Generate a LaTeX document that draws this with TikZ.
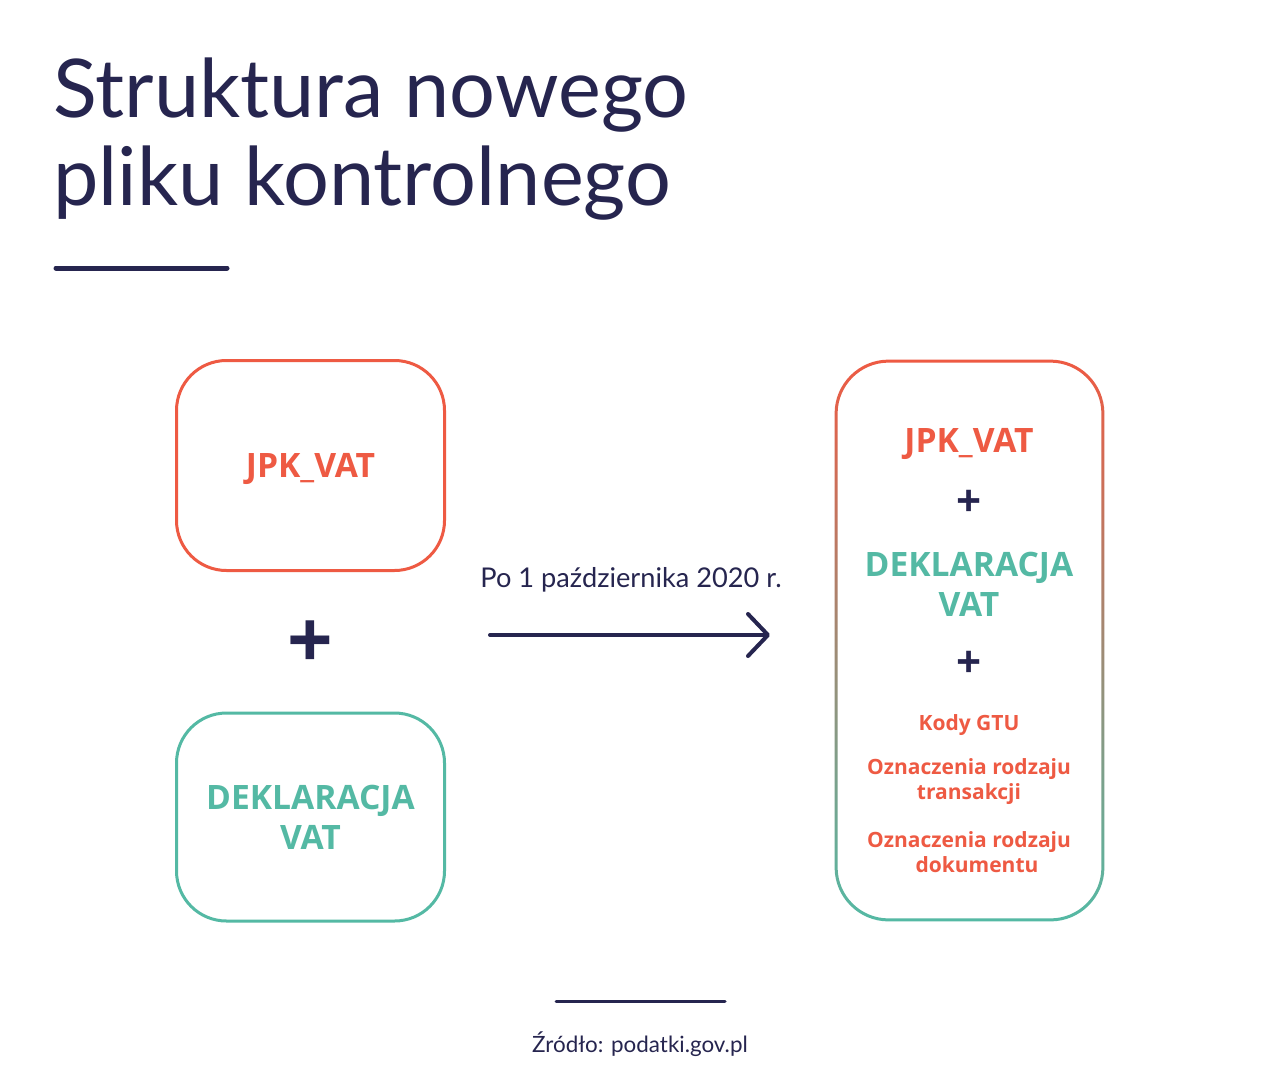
\documentclass[tikz,border=0pt]{standalone}
\usepackage{fontspec}
\setmainfont{Open Sans}
\newfontfamily\titlefont{Lato}
\usetikzlibrary{arrows.meta,positioning}
\definecolor{granat}{HTML}{26254F}
\definecolor{koral}{HTML}{EE5A43}
\definecolor{morski}{HTML}{54B9A4}
\tikzstyle{pole} = [draw, line width=1.5pt, rounded corners=25pt, minimum width=134pt, minimum height=105pt, align=center, font=\bfseries\fontsize{16.8}{20}\selectfont]
\tikzstyle{duzy} = [font=\bfseries\fontsize{16.8}{20}\selectfont, align=center]
\tikzstyle{plus} = [granat, font=\bfseries\fontsize{22}{22}\selectfont, inner sep=0pt]
\tikzstyle{maly} = [koral, align=center, font=\bfseries\fontsize{10.5}{12.5}\selectfont]
\tikzstyle{kreska} = [granat, line width=2.5pt, line cap=round]

\begin{document}
\begin{tikzpicture}[x=0.5pt,y=-0.5pt]
    \useasboundingbox[fill=white] (0,0) rectangle (1280,1088);
    % title
    \node[granat, anchor=base west, inner sep=0pt, font=\titlefont\fontsize{40.5}{44}\selectfont] (tytul) at (53,117) {Struktura nowego};
    \node[granat, anchor=base west, inner sep=0pt, font=\titlefont\fontsize{40.5}{44}\selectfont] (tytul2) at (53,205) {pliku kontrolnego};
    \draw[kreska] (56,268) -- (227,268);
    % old structure
    \node[pole, koral, text height=16pt, text depth=4pt] (jpk) at (310.5,465.5) {JPK\_VAT};
    \node[plus, font=\bfseries\fontsize{40}{40}\selectfont] (plus) at (310.5,645) {+};
    \node[pole, morski, minimum height=104pt] (deklaracja) at (310.5,817) {DEKLARACJA\\VAT};
    % arrow
    \coordinate (start) at (490,635);
    \coordinate (koniec) at (770,635);
    \draw[granat, line width=2pt, line cap=round, -{Straight Barb[length=10pt,width=21pt,line width=2pt,round]}] (start) -- (koniec);
    \node[granat, font=\titlefont\fontsize{13.6}{15}\selectfont, anchor=base] (data) at (631,587) {Po 1 października 2020 r.};
    % new structure
    \node[minimum width=134.5pt, minimum height=280.5pt] (nowy) at (969.5,640.5) {};
    \shade[top color=koral, bottom color=morski, middle color=koral!50!morski, even odd rule]
      [rounded corners=27pt] (nowy.north west) rectangle (nowy.south east)
      [rounded corners=25.5pt] ([shift={(3,3)}]nowy.north west) rectangle ([shift={(-3,-3)}]nowy.south east);
    \node[koral, duzy] (jpk2) at (969,444) {JPK\_VAT};
    \node[plus] (plus1) at (969,503) {+};
    \node[morski, duzy] (deklaracja2) at (969,584) {DEKLARACJA\\VAT};
    \node[plus] (plus2) at (969,664) {+};
    \node[maly] (gtu) at (969,725) {Kody GTU};
    \node[maly] (transakcje) at (969,782) {Oznaczenia rodzaju\\transakcji};
    \node[maly] (dokumenty) at (969,852) {Oznaczenia rodzaju\\\hspace*{8pt}dokumentu};
    % source
    \draw[kreska, line width=1.5pt] (556,1001) -- (725,1001);
    \node[granat, font=\titlefont\fontsize{11.2}{13}\selectfont, anchor=base] (zrodlo) at (640,1052) {Źródło: podatki.gov.pl};
\end{tikzpicture}
\end{document}
